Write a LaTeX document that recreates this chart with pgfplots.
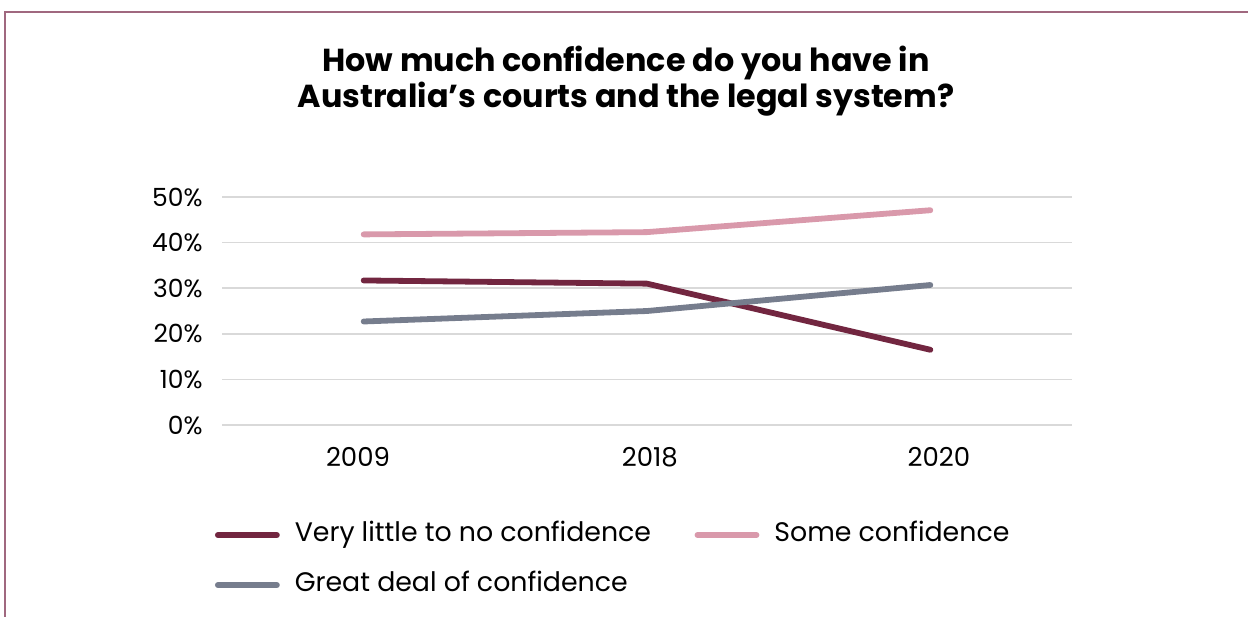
\documentclass[border=0pt]{standalone}
\usepackage{fontspec}
\setmainfont{Poppins}
\usepackage{pgfplots}
\pgfplotsset{compat=1.18}
\definecolor{cMaroon}{HTML}{722640}
\definecolor{cPink}{HTML}{D999AB}
\definecolor{cGray}{HTML}{767D8D}
\definecolor{cBorder}{HTML}{A0687F}
\definecolor{cGrid}{HTML}{D9D9D9}
\begin{document}
\begin{tikzpicture}
\useasboundingbox (0,0) rectangle (624bp,-308.5bp);
\draw[cBorder, line width=0.8bp] (2.5bp,-308.5bp) -- (2.5bp,-6bp) -- (624bp,-6bp);
\node[anchor=base, inner sep=0pt, font=\fontsize{15.9bp}{19bp}\selectfont\bfseries] at (313bp,-35.9bp) {How much confidence do you have in};
\node[anchor=base, inner sep=0pt, font=\fontsize{15.9bp}{19bp}\selectfont\bfseries] at (313bp,-53.6bp) {Australia’s courts and the legal system?};
\begin{axis}[
  at={(111bp,-212.5bp)}, anchor=south west,
  scale only axis, width=425bp, height=114bp,
  xmin=-0.5, xmax=2.5, ymin=0, ymax=50,
  xtick={-0.02,1.01,2.03}, xticklabels={2009,2018,2020},
  ytick={0,10,20,30,40,50}, yticklabels={0\%,10\%,20\%,30\%,40\%,50\%},
  axis line style={draw=none},
  major tick length=0pt, tick style={draw=none},
  ymajorgrids, grid style={cGrid, line width=0.8bp},
  tick label style={font=\fontsize{12.5bp}{15bp}\selectfont, inner sep=0pt},
  yticklabel style={xshift=-9.5bp},
  xticklabel style={yshift=-11bp, font=\fontsize{13bp}{15bp}\selectfont},
  /pgf/number format/assume math mode=true,
  clip=false,
  legend columns=2,
  legend cell align=left,
  legend style={at={(-0.0118,-0.43)}, anchor=north west, draw=none, fill=none,
    inner sep=0pt, outer sep=0pt, row sep=13bp,
    font=\fontsize{13.4bp}{16bp}\selectfont,
    nodes={inner sep=0pt, text height=9bp, text depth=3bp},
    /tikz/every even column/.append style={column sep=20.25bp}},
  legend image code/.code={\draw[line width=2.9bp, line cap=round] (0bp,0bp) -- (29.5bp,0bp); \path (-1.5bp,0bp) (37bp,0bp);},
]
\addplot[cMaroon, line width=2.9bp, line cap=round, line join=round] coordinates {(0,31.7) (1,31.0) (2,16.5)};
\addlegendentry{Very little to no confidence}
\addplot[cPink, line width=2.9bp, line cap=round, line join=round] coordinates {(0,41.8) (1,42.3) (2,47.1)};
\addlegendentry{Some confidence}
\addplot[cGray, line width=2.9bp, line cap=round, line join=round] coordinates {(0,22.7) (1,25.0) (2,30.7)};
\addlegendentry{Great deal of confidence}
\end{axis}
\end{tikzpicture}
\end{document}
